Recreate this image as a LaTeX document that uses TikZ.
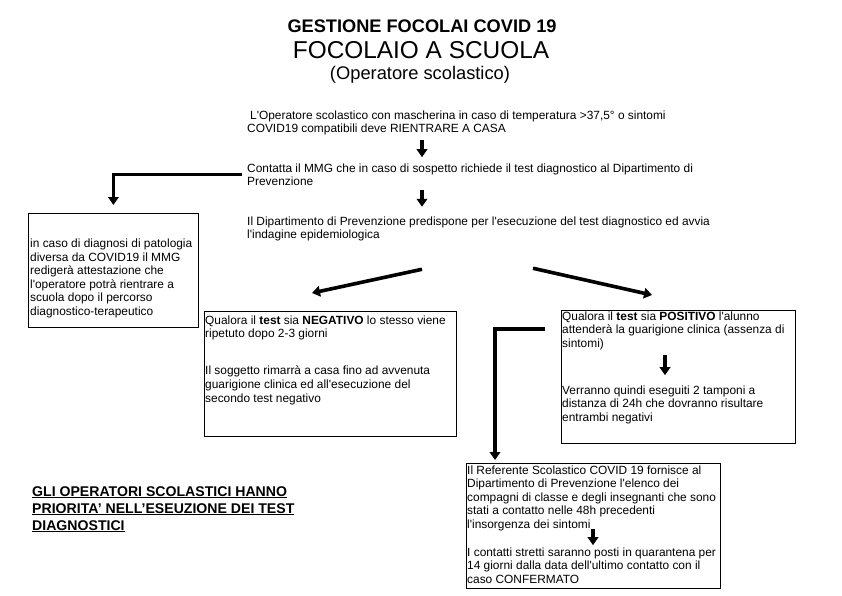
\documentclass[tikz,border=0pt]{standalone}
\usepackage{fontspec}
\setmainfont{Liberation Sans}
\usetikzlibrary{arrows.meta}
\definecolor{cvink}{HTML}{000000}
\tikzset{
  cv text/.style={font=\fontsize{11.9}{13.6}\selectfont, text=cvink, inner sep=0pt,
    align=left, anchor=base west},
  cv title/.style={font=\bfseries\fontsize{18.2}{21}\selectfont, text=cvink, inner sep=0pt,
    anchor=base},
  cv note/.style={font=\bfseries\fontsize{14.1}{17}\selectfont, text=cvink, inner sep=0pt,
    align=left, anchor=base west},
  cv box/.style={draw=cvink, line width=0.8pt, inner sep=0pt, anchor=north west},
  cv arrow/.style={-{Triangle[length=8pt,width=10.5pt]}, line width=3.6pt, draw=cvink}
}

\begin{document}
\begin{tikzpicture}[x=1pt, y=-1pt]
  \fill[white] (0,0) rectangle (842,595);
  \useasboundingbox (0,0) rectangle (842,595);
  % titles
  \node[cv title] (title) at (422,32) {GESTIONE FOCOLAI COVID 19};
  \node[cv title, font=\fontsize{24.4}{28}\selectfont] (subtitle) at (421,58) {FOCOLAIO A SCUOLA};
  \node[cv title, font=\fontsize{18.3}{21}\selectfont] (role) at (420,79) {(Operatore scolastico)};
  % main column (anchor = last baseline)
  \node[cv text] (step1) at (247,132.6) {\hspace*{3pt}L\textquotesingle Operatore scolastico con mascherina in caso di temperatura >37,5° o sintomi\\COVID19 compatibili deve RIENTRARE A CASA};
  \node[cv text] (step2) at (247,185.6) {Contatta il MMG che in caso di sospetto richiede il test diagnostico al Dipartimento di\\Prevenzione};
  \node[cv text] (step3) at (247,238.6) {Il Dipartimento di Prevenzione predispone per l\textquotesingle esecuzione del test diagnostico ed avvia\\l\textquotesingle indagine epidemiologica};
  \draw[cv arrow] ([shift={(175,5)}]step1.south west) -- ([shift={(175,-6)}]step2.north west);
  \draw[cv arrow] ([shift={(175,4.5)}]step2.south west) -- ([shift={(175,-9.4)}]step3.north west);
  % other diagnosis
  \node[cv box, minimum width=170pt, minimum height=114pt] (diagbox) at (28,213) {};
  \node[cv text] (diagtext) at (30,315.5) {in caso di diagnosi di patologia\\diversa da COVID19 il MMG\\redigerà attestazione che\\l\textquotesingle operatore potrà rientrare a\\scuola dopo il percorso\\diagnostico-terapeutico};
  \draw[cv arrow] ([xshift=-5pt]step2.west) -| ([yshift=8pt]diagbox.north);
  % negative test
  \node[cv box, minimum width=252pt, minimum height=125pt] (negbox) at (204,311) {};
  \node[cv text] (neg1) at (205,337.6) {Qualora il \textbf{test} sia \textbf{NEGATIVO} lo stesso viene\\ripetuto dopo 2-3 giorni};
  \node[cv text] (neg2) at (205,402) {Il soggetto rimarrà a casa fino ad avvenuta\\guarigione clinica ed all\textquotesingle esecuzione del\\secondo test negativo};
  \draw[cv arrow] ([shift={(175,28)}]step3.south west) -- ([shift={(108,-18)}]negbox.north west);
  % positive test
  \node[cv box, minimum width=234pt, minimum height=133pt] (posbox) at (561,310) {};
  \node[cv text] (pos1) at (562,347.2) {Qualora il \textbf{test} sia \textbf{POSITIVO} l\textquotesingle alunno\\attenderà la guarigione clinica (assenza di\\sintomi)};
  \node[cv text] (pos2) at (562,421.2) {Verranno quindi eseguiti 2 tamponi a\\distanza di 24h che dovranno risultare\\entrambi negativi};
  \draw[cv arrow] ([shift={(286,27)}]step3.south west) -- ([shift={(91,-15)}]posbox.north west);
  \draw[cv arrow] ([shift={(103,5)}]pos1.south west) -- ([shift={(103,-10)}]pos2.north west);
  % school referent
  \node[cv box, minimum width=254pt, minimum height=125pt] (refbox) at (466,463) {};
  \node[cv text] (ref1) at (467,528.4) {Il Referente Scolastico COVID 19 fornisce al\\Dipartimento di Prevenzione l\textquotesingle elenco dei\\compagni di classe e degli insegnanti che sono\\stati a contatto nelle 48h precedenti\\l\textquotesingle insorgenza dei sintomi};
  \node[cv text] (ref2) at (467,583.2) {I contatti stretti saranno posti in quarantena per\\14 giorni dalla data dell\textquotesingle ultimo contatto con il\\caso CONFERMATO};
  \draw[cv arrow] ([shift={(-16,19)}]posbox.north west) -| ([shift={(29,-3)}]refbox.north west);
  \draw[cv arrow] ([shift={(126,-2)}]ref1.south west) -- ([shift={(126,-2)}]ref2.north west);
  % priority note
  \node[cv note] (note) at (32,530) {\underline{GLI OPERATORI SCOLASTICI HANNO}\\\underline{PRIORITA’ NELL’ESEUZIONE DEI TEST}\\\underline{DIAGNOSTICI}};
\end{tikzpicture}
\end{document}
